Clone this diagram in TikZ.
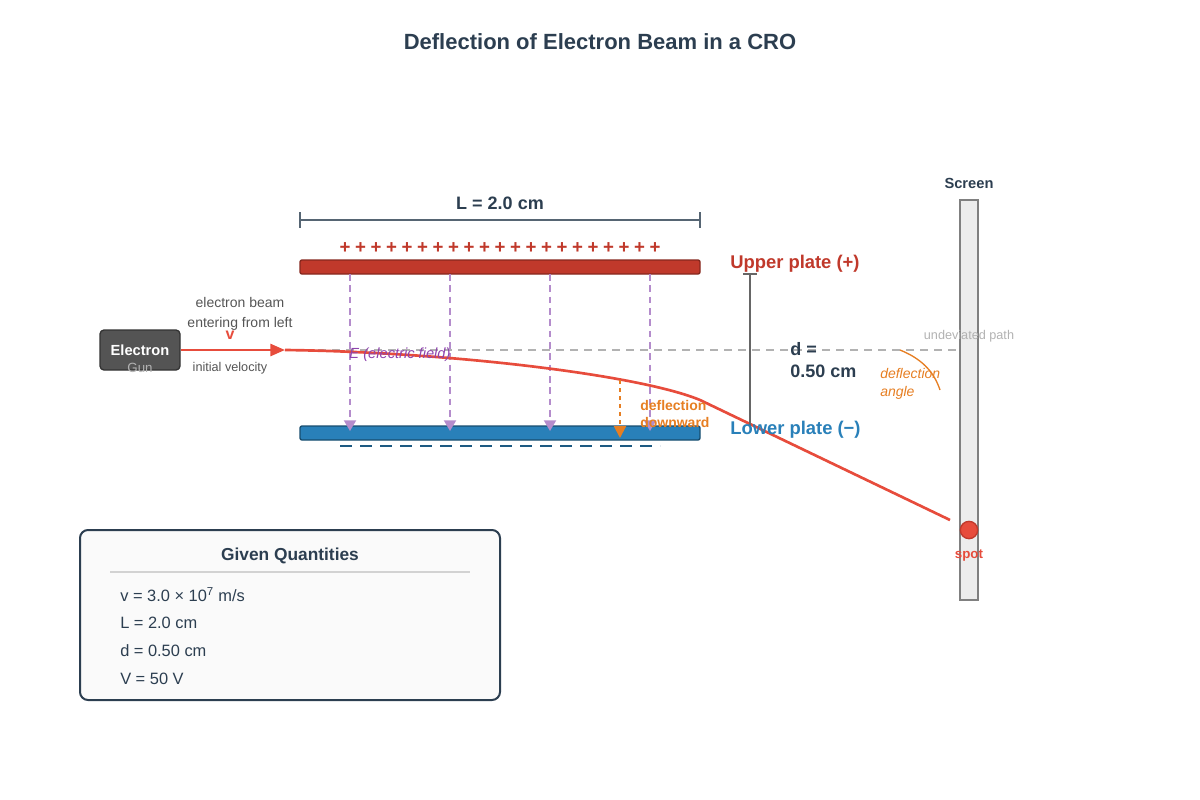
\documentclass[tikz,border=0pt]{standalone}
\usepackage{fontspec}
\setmainfont{Liberation Sans}
\usetikzlibrary{arrows.meta}
\definecolor{dark}{HTML}{2C3E50}
\definecolor{upr}{HTML}{C0392B}
\definecolor{lowb}{HTML}{2980B9}
\definecolor{beam}{HTML}{E74C3C}
\definecolor{fld}{HTML}{B48CCC}
\definecolor{fldt}{HTML}{8E44AD}
\definecolor{org}{HTML}{E67E22}
\definecolor{txtg}{HTML}{555555}
\tikzset{
 fs/.style={font=\fontsize{#1}{#1}\selectfont},
 lbl/.style={inner sep=0pt},
 fieldline/.style={fld,dash pattern=on 5pt off 3.5pt,line width=1.5pt,-{Triangle[length=8pt,width=9pt]}},
}
\begin{document}
\begin{tikzpicture}[x=0.75pt,y=-0.75pt]
\useasboundingbox (0,0) rectangle (1200,800);
\node[lbl,fs=16.5,text=dark] (title) at (600,42) {\bfseries Deflection of Electron Beam in a CRO};
% L dimension
\coordinate (l1) at (300,220); \coordinate (l2) at (700,220);
\draw[dark!80,line width=1.2pt] (l1) -- (l2) (300,212) -- (300,228) (700,212) -- (700,228);
\node[lbl,fs=13.5,text=dark] (Llab) at (500,203) {\bfseries L = 2.0 cm};
% plates
\draw[upr!70!black,fill=upr,line width=1pt,rounded corners=1.5pt] (300,260) rectangle (700,274);
\draw[lowb!60!black,fill=lowb,line width=1pt,rounded corners=1.5pt] (300,426) rectangle (700,440);
\foreach \i in {0,...,20} \node[lbl,fs=14,text=upr] at (345+15.5*\i,248) {\bfseries +};
\draw[lowb!70!black,dash pattern=on 9pt off 6pt,line width=1.2pt] (340,446) -- (660,446);
% field lines
\foreach \x in {350,450,550,650} \draw[fieldline] (\x,274) -- (\x,431);
% undeviated
\draw[gray!60,dash pattern=on 6pt off 4.5pt,line width=1.2pt] (290,350) -- (965,350);
% gun
\node[draw=black!80,fill=black!67,rounded corners=3pt,minimum width=60pt,minimum height=30pt,line width=1pt] (gun) at (140,350) {};
\node[lbl,fs=11,text=white] (gt) at (140,350) {\bfseries Electron};
\node[lbl,fs=10,text=gray!60] (gt2) at (140,368) {Gun};
\coordinate (b0) at (285,350);
\draw[beam,line width=2pt,-{Triangle[length=11pt,width=9pt]}] (gun.east) -- (b0);
\coordinate (b1) at (700,400); \coordinate (hit) at (950,520);
\draw[beam,line width=2pt] (b0) .. controls (450,352) and (640,375) .. (b1) -- (hit);
% gun labels
\node[lbl,fs=10.5,text=txtg,align=center] at (240,314) {electron beam\\[4pt]entering from left};
\node[lbl,fs=12,text=beam] at (230,335) {\bfseries v};
\node[lbl,fs=9.5,text=txtg] at (230,368) {initial velocity};
\node[lbl,fs=11,text=fldt] at (400,355) {\itshape E (electric field)};
% deflection arrow
\coordinate (d1) at (620,380); \coordinate (d2) at (620,438);
\draw[org,dashed,line width=1.5pt,-{Triangle[length=9pt,width=9pt]}] (d1) -- (d2);
\node[lbl,fs=10.5,text=org,anchor=west,align=left] at (640,414) {\bfseries deflection\\[2pt]\bfseries downward};
% d bracket
\draw[black!60,line width=1.5pt] (750,274) -- (750,426) (743,274) -- (757,274);
\node[lbl,fs=13.5,text=dark,anchor=west,align=left] at (790,360) {\bfseries d =\\[3pt]\bfseries 0.50 cm};
\node[lbl,fs=13.8,text=upr,anchor=west] at (730,264) {\bfseries Upper plate (+)};
\node[lbl,fs=13.8,text=lowb,anchor=west] at (730,430) {\bfseries Lower plate (−)};
% screen
\draw[gray,fill=black!7,line width=1.2pt] (960,200) rectangle (978,600);
\node[lbl,fs=11,text=dark] at (969,183) {\bfseries Screen};
\node[draw=upr,fill=beam,circle,minimum size=13pt,inner sep=0pt,line width=1pt] (spot) at (969,530) {};
\node[lbl,fs=10,text=beam] at (969,556) {\bfseries spot};
\node[lbl,fs=9.5,text=gray!60] at (969,336) {undeviated path};
\draw[org,line width=1pt] (900,350) .. controls (925,360) and (935,375) .. (940,390);
\node[lbl,fs=10.5,text=org,anchor=west,align=left] at (880,384) {\itshape deflection\\[3pt]\itshape angle};
% given box
\draw[dark,fill=black!2,line width=1.5pt,rounded corners=6pt] (80,530) rectangle (500,700);
\node[lbl,fs=13,text=dark] at (290,556) {\bfseries Given Quantities};
\draw[gray!35,line width=1.2pt] (110,572) -- (470,572);
\node[lbl,fs=12.3,text=dark,anchor=west] at (120,595) {v = 3.0 × 10\textsuperscript{7} m/s};
\node[lbl,fs=12.3,text=dark,anchor=west] at (120,623) {L = 2.0 cm};
\node[lbl,fs=12.3,text=dark,anchor=west] at (120,651) {d = 0.50 cm};
\node[lbl,fs=12.3,text=dark,anchor=west] at (120,679) {V = 50 V};
\end{tikzpicture}
\end{document}
